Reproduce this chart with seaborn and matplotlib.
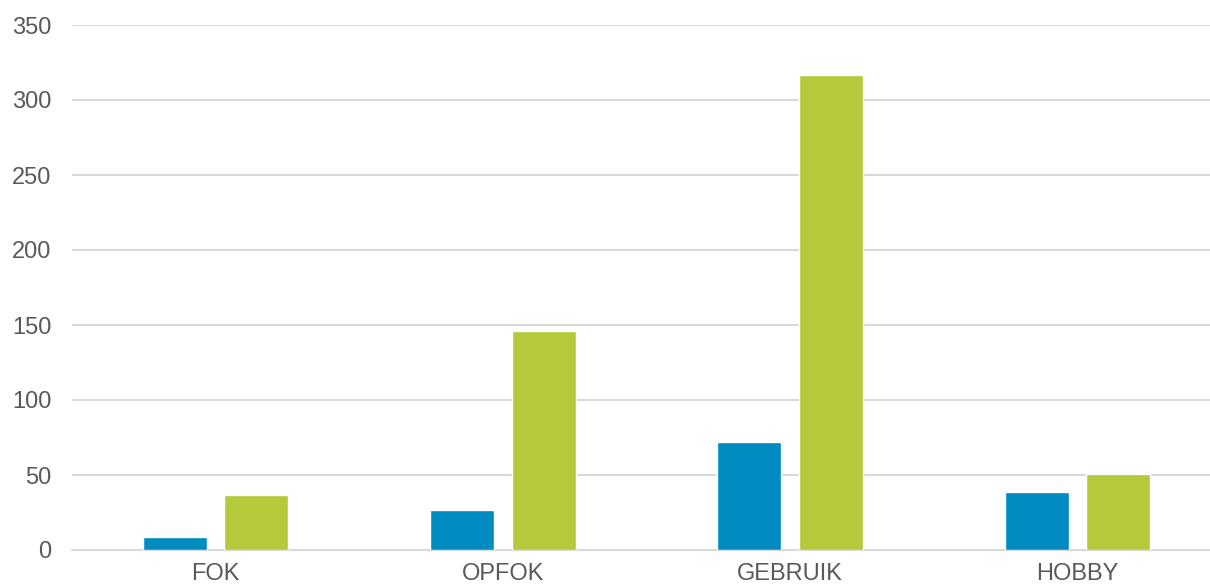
import matplotlib
matplotlib.use("Agg")
import matplotlib.pyplot as plt
import seaborn as sns
import pandas as pd

categories = ["FOK", "OPFOK", "GEBRUIK", "HOBBY"]
series_a = [9, 27, 72, 39]
series_b = [37, 146, 317, 51]
series_names = ["A", "B"]
y_ticks = [0, 50, 100, 150, 200, 250, 300, 350]

df = pd.DataFrame({
    "categorie": categories * 2,
    "waarde": series_a + series_b,
    "reeks": [series_names[0]] * len(categories) + [series_names[1]] * len(categories),
})

sns.set_theme(style="white")
plt.rcParams["font.family"] = ["Liberation Sans", "DejaVu Sans"]

fig = plt.figure(figsize=(12.10, 5.87), dpi=100)
ax = fig.add_axes([72 / 1210, 37 / 587, 1149 / 1210, 525 / 587])

sns.barplot(
    data=df, x="categorie", y="waarde", hue="reeks",
    order=categories, hue_order=series_names,
    palette=["#008CC1", "#B5C93A"],
    width=0.566, gap=0.213, saturation=1,
    legend=False, ax=ax, zorder=3,
)

ax.set_ylim(0, 350)
ax.set_yticks(y_ticks)
ax.set_xlim(-0.5, len(categories) - 0.5)
ax.set_xlabel("")
ax.set_ylabel("")
ax.grid(axis="y", color="#D9D9D9", linewidth=1.5, zorder=0)
ax.grid(axis="x", visible=False)
for side in ["top", "right", "left"]:
    ax.spines[side].set_visible(False)
ax.spines["bottom"].set_color("#D9D9D9")
ax.spines["bottom"].set_linewidth(1.5)
ax.tick_params(axis="both", length=0, labelsize=17, labelcolor="#595959")
ax.tick_params(axis="y", pad=15)
ax.tick_params(axis="x", pad=9)

fig.savefig("out.png", dpi=100)
